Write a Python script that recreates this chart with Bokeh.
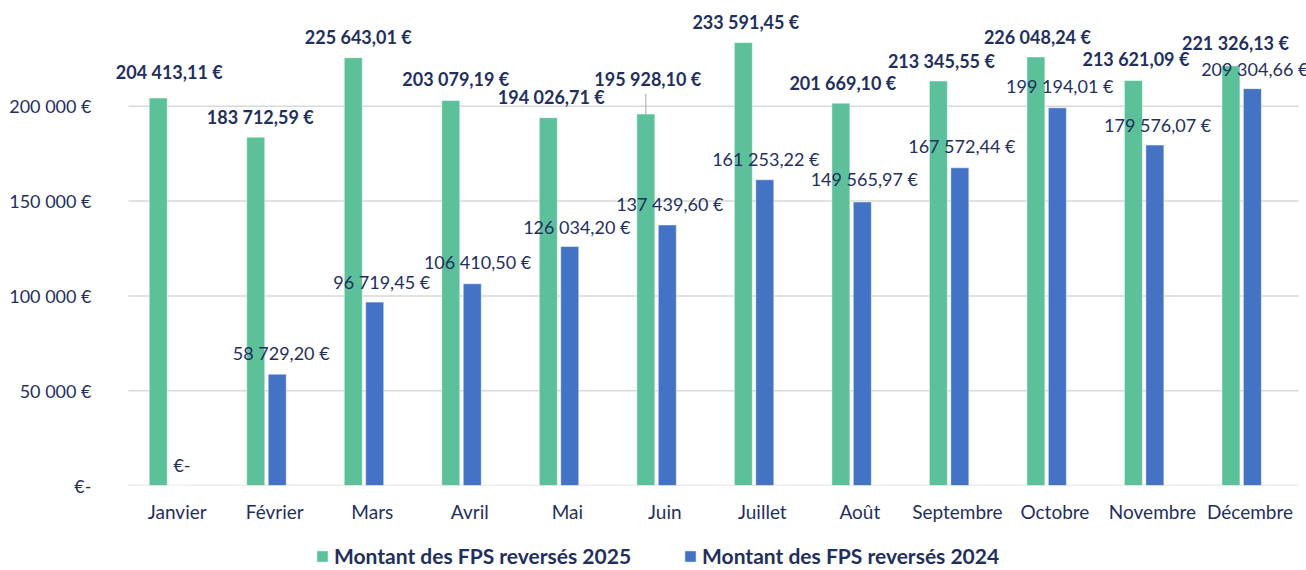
from bokeh.plotting import figure
from bokeh.models import (ColumnDataSource, FixedTicker, Legend, LegendItem, LabelSet, Range1d)
from bokeh.layouts import column
from bokeh.core.properties import value
from bokeh.embed import file_html
from bokeh.resources import INLINE

# ---- data ----
months = ["Janvier", "Février", "Mars", "Avril", "Mai", "Juin", "Juillet", "Août",
          "Septembre", "Octobre", "Novembre", "Décembre"]
fps_2025 = [204413.11, 183712.59, 225643.01, 203079.19, 194026.71, 195928.10,
            233591.45, 201669.10, 213345.55, 226048.24, 213621.09, 221326.13]
fps_2024 = [0.0, 58729.20, 96719.45, 106410.50, 126034.20, 137439.60,
            161253.22, 149565.97, 167572.44, 199194.01, 179576.07, 209304.66]
y_ticks = [0, 50000, 100000, 150000, 200000]
y_tick_labels = ["€-", "50 000 €", "100 000 €", "150 000 €", "200 000 €"]
series_names = ["Montant des FPS reversés 2025", "Montant des FPS reversés 2024"]

# ---- styles / positions ----
NAVY = "#1F2F5E"
GREEN = "#5CC19B"
BLUE = "#4472C4"
GRID = "#D9D9D9"
FONT = "Lato"
BAR_W = 0.185
OFF_2025 = -0.195
OFF_2024 = 0.025
X_LEFT_PAD = 0.205    # room left of first category for the first label
X_RIGHT_PAD = 0.08    # room right of last category
# per-label pixel offsets (x right, y up) from bar top centre
dx_2025 = [11, 4.5, 5, 5, 3, 2, 2.5, 2, 3, 1.5, 2.5, 4.5]
dy_2025 = [25.6, 20, 21, 21.6, 21, 35, 20.5, 20.6, 20.3, 20, 21.7, 23.3]
dx_2024 = [2.3, 4, 7, 5.3, 7, 2.5, 1, 2, 2, 2.4, 2.8, 2.4]
dy_2024 = [21, 21, 20.6, 21.6, 20, 21, 21, 23, 21.8, 21.5, 20, 20]


def fmt(v):
    if v == 0:
        return "€-"
    s = f"{v:,.2f}".replace(",", " ").replace(".", ",")
    return s + " €"


idx = list(range(len(months)))
src25 = ColumnDataSource(dict(
    x=[i + OFF_2025 for i in idx], top=fps_2025,
    label=[fmt(v) for v in fps_2025], dx=dx_2025, dy=dy_2025))
src24 = ColumnDataSource(dict(
    x=[i + OFF_2024 for i in idx], top=fps_2024,
    label=[fmt(v) for v in fps_2024], dx=dx_2024, dy=dy_2024))

p = figure(width=1306, height=530, output_backend="svg", toolbar_location=None,
           x_range=Range1d(-0.5 - X_LEFT_PAD, len(months) - 0.5 + X_RIGHT_PAD),
           y_range=Range1d(0, 250000),
           min_border_left=108, min_border_right=0, min_border_top=11,
           min_border_bottom=45, outline_line_color=None)
p.background_fill_color = "white"
p.border_fill_color = "white"

# horizontal gridlines over the category span
p.segment(x0=[-0.5] * len(y_ticks), x1=[len(months) - 0.5] * len(y_ticks),
          y0=y_ticks, y1=y_ticks, line_color=GRID, line_width=1.5)

bar_style = dict(width=BAR_W, line_color="white", line_alpha=0.5, line_width=1)
r25 = p.vbar(x="x", top="top", source=src25, fill_color=GREEN, **bar_style)
r24 = p.vbar(x="x", top="top", source=src24, fill_color=BLUE, **bar_style)

# leader line for Juin 2025 label
j = months.index("Juin")
p.segment(x0=[j + OFF_2025], x1=[j + OFF_2025], y0=[fps_2025[j]],
          y1=[fps_2025[j] + 20 * 527], line_color="#A6A6A6", line_width=1)

lab25 = LabelSet(x="x", y="top", text="label", source=src25, x_offset="dx", y_offset="dy",
                 text_align="center", text_baseline="middle", text_font=value(FONT),
                 text_font_size=value("18px"), text_font_style="bold", text_color=NAVY)
lab24 = LabelSet(x="x", y="top", text="label", source=src24, x_offset="dx", y_offset="dy",
                 text_align="center", text_baseline="middle", text_font=value(FONT),
                 text_font_size=value("18px"), text_color=NAVY)
p.add_layout(lab25)
p.add_layout(lab24)

# axes
p.xaxis.ticker = FixedTicker(ticks=idx)
p.xaxis.major_label_overrides = {i: m for i, m in zip(idx, months)}
p.yaxis.ticker = FixedTicker(ticks=y_ticks)
p.yaxis.major_label_overrides = {t: l for t, l in zip(y_ticks, y_tick_labels)}
for ax in (p.xaxis, p.yaxis):
    ax.axis_line_color = None
    ax.major_tick_line_color = None
    ax.minor_tick_line_color = None
    ax.major_tick_out = 0
    ax.major_tick_in = 0
    ax.minor_tick_out = 0
    ax.minor_tick_in = 0
    ax.major_label_text_font = FONT
    ax.major_label_text_color = NAVY
p.xaxis.major_label_text_font_size = "19px"
p.yaxis.major_label_text_font_size = "18px"
p.xaxis.major_label_standoff = 14
p.yaxis.major_label_standoff = 17

p.xgrid.grid_line_color = None
p.ygrid.grid_line_color = None

# ---- legend strip below the chart ----
pl = figure(width=1306, height=40, output_backend="svg", toolbar_location=None,
            x_range=Range1d(0, 1), y_range=Range1d(0, 1),
            x_axis_location=None, y_axis_location=None,
            min_border_left=0, min_border_right=0, min_border_top=0,
            min_border_bottom=0, outline_line_color=None)
pl.grid.visible = False
# legend proxies, placed outside the visible range
l25 = pl.vbar(x=[5], top=[5], bottom=[4], fill_color=GREEN, **bar_style)
l24 = pl.vbar(x=[5], top=[5], bottom=[4], fill_color=BLUE, **bar_style)
legend = Legend(items=[LegendItem(label=series_names[0], renderers=[l25]),
                       LegendItem(label=series_names[1], renderers=[l24])],
                orientation="horizontal", location=(207, 2),
                padding=0, margin=0, spacing=52, glyph_width=14, glyph_height=14,
                label_standoff=5, label_text_font=FONT, label_text_font_size="21px",
                label_text_font_style="bold", label_text_color=NAVY,
                border_line_color=None, background_fill_alpha=0)
pl.add_layout(legend)

open("out.html", "w").write(file_html(column(p, pl, spacing=0), INLINE))
